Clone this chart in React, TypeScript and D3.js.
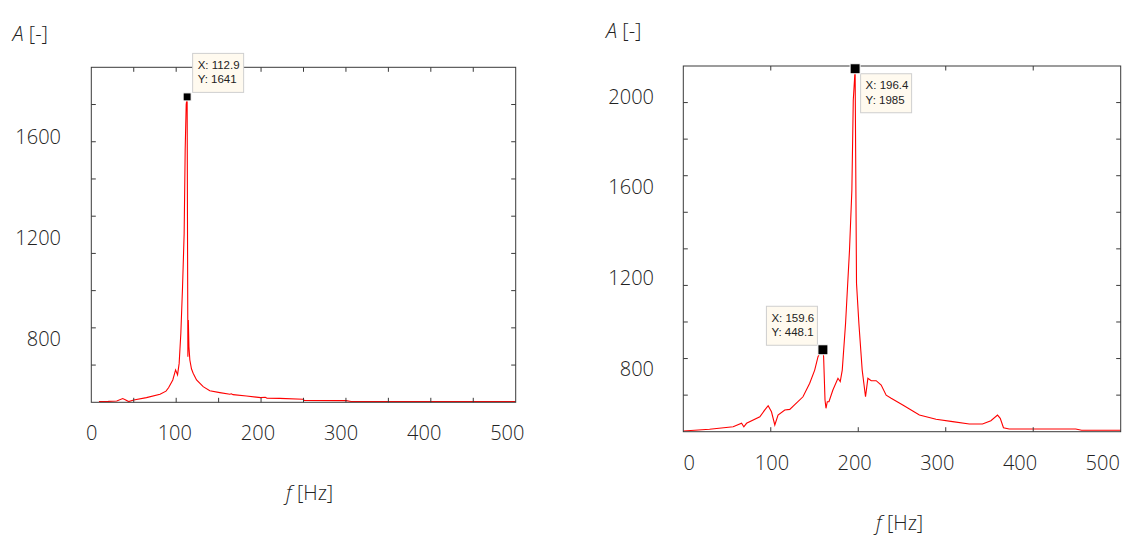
import React, { useEffect, useRef } from 'react';
import * as d3 from 'd3';

// left spectrum (f in Hz, A in -)
const leftFreq = [9, 20, 30, 37, 40, 44, 50, 65, 81, 88, 91, 96, 99.3, 101.6, 103.5, 105.5, 107.5, 109.4, 110.6, 111.8, 112.9, 113.3, 113.8, 114.3, 115, 116.1, 118, 120, 124, 131.8, 139.6, 151.4, 163.2, 165, 167, 182.8, 199.6, 205, 207, 222, 249.4, 251, 300.5, 306, 500];
const leftAmp = [4, 5, 7, 20, 14, 4, 12, 25, 43, 60, 78, 120, 174, 147, 209, 371, 621, 908, 1356, 1600, 1641, 1000, 245, 442, 300, 227, 180, 156, 120, 84, 62, 52, 43, 46, 41, 34, 25, 27, 22, 21, 16, 10, 9, 4, 4];

// right spectrum
const rightFreq = [0, 30, 57, 66.6, 69.2, 72.3, 87.5, 93.2, 97, 100.8, 104.6, 108.3, 116, 121.7, 136.8, 144.5, 150.2, 154, 157, 159.6, 160.4, 162, 163.1, 164.6, 166.5, 171, 176.8, 179.4, 181.7, 185.5, 190, 192.7, 194.3, 195.8, 196.4, 197, 198, 200.7, 204.5, 208.3, 211, 214.8, 220.5, 226.2, 231.9, 237.6, 250.9, 269.9, 288.9, 307.9, 326.9, 342, 351.6, 359.2, 362.3, 366, 372.5, 448.6, 455.3, 500];
const rightAmp = [4, 13, 27, 46, 27, 46, 82, 119, 142, 109, 37, 91, 119, 122, 191, 265, 337, 410, 440, 448.1, 410, 173, 128, 164, 164, 228, 292, 274, 337, 593, 994, 1322, 1814, 1933, 1985, 1541, 812, 593, 337, 191, 292, 279, 279, 255, 200, 183, 146, 91, 68, 55, 42, 42, 60, 91, 73, 22, 15, 15, 8, 8];

// axis ticks (inward tick marks) and the text labels set beside the plots
const leftXTicks = [50, 100, 150, 200, 250, 300, 350, 400, 450];
const leftYTicks = [200, 400, 600, 800, 1000, 1200, 1400, 1600];
const rightXTicks = [100, 200, 300, 400];
const rightYTicks = [200, 400, 600, 800, 1000, 1200, 1400, 1600, 1800];
const xLabels = [0, 100, 200, 300, 400, 500];
const leftYLabels = [800, 1200, 1600];
const rightYLabels = [800, 1200, 1600, 2000];

// data tips: [x, y, corner]
const leftTips: [number, number, string][] = [[112.9, 1641, 'bl']];
const rightTips: [number, number, string][] = [[196.4, 1985, 'tl'], [159.6, 448.1, 'br']];

const FONT = "'Open Sans', 'Noto Sans', sans-serif";

type Panel = {
  freq: number[];
  amp: number[];
  xRange: [number, number];
  yRange: [number, number];
  yMax: number;
  xTicks: number[];
  yTicks: number[];
  xLabRange: [number, number];
  xLabY: number;
  yLabels: number[];
  yLabDomain: [number, number];
  yLabRange: [number, number];
  yLabX: number;
  titleX: number;
  titleY: number;
  fX: number;
  fY: number;
  tips: [number, number, string][];
  marker: number;
};

const panels: Panel[] = [
  {
    freq: leftFreq, amp: leftAmp,
    xRange: [91.3, 515.7], yRange: [402.3, 67.3], yMax: 1800,
    xTicks: leftXTicks, yTicks: leftYTicks,
    xLabRange: [91.7, 507.3], xLabY: 440,
    yLabels: leftYLabels, yLabDomain: [800, 1600], yLabRange: [338.3, 136.7], yLabX: 61,
    titleX: 12.5, titleY: 41, fX: 286, fY: 499.5,
    tips: leftTips, marker: 8,
  },
  {
    freq: rightFreq, amp: rightAmp,
    xRange: [683.3, 1120.7], yRange: [431.7, 66], yMax: 2000,
    xTicks: rightXTicks, yTicks: rightYTicks,
    xLabRange: [689.3, 1102.7], xLabY: 470,
    yLabels: rightYLabels, yLabDomain: [800, 2000], yLabRange: [368.3, 96.3], yLabX: 654,
    titleX: 606, titleY: 38, fX: 876, fY: 530,
    tips: rightTips, marker: 10,
  },
];

const App = () => {
  const svgRef = useRef<SVGSVGElement>(null);

  useEffect(() => {
    const svg = d3.select(svgRef.current);
    svg.selectAll('*').remove();

    panels.forEach(p => {
      const g = svg.append('g');
      const x = d3.scaleLinear().domain([0, 500]).range(p.xRange);
      const y = d3.scaleLinear().domain([0, p.yMax]).range(p.yRange);
      const [x0, x1] = p.xRange;
      const [y0, y1] = p.yRange;
      const tl = 4.5;

      // curve
      const pts = p.freq.map((f, i) => [f, p.amp[i]] as [number, number]);
      g.append('path')
        .datum(pts)
        .attr('fill', 'none')
        .attr('stroke', '#ff0000')
        .attr('stroke-width', 1.1)
        .attr('d', d3.line<[number, number]>().x(d => x(d[0])).y(d => y(d[1])));

      // box
      g.append('rect')
        .attr('x', x0).attr('y', y1)
        .attr('width', x1 - x0).attr('height', y0 - y1)
        .attr('fill', 'none')
        .attr('stroke', '#3a3a3a')
        .attr('stroke-width', 1);

      // inward ticks on all four sides
      const ticks = g.append('g').attr('stroke', '#3a3a3a').attr('stroke-width', 1);
      p.xTicks.forEach(t => {
        ticks.append('line').attr('x1', x(t)).attr('x2', x(t)).attr('y1', y0).attr('y2', y0 - tl);
        ticks.append('line').attr('x1', x(t)).attr('x2', x(t)).attr('y1', y1).attr('y2', y1 + tl);
      });
      p.yTicks.forEach(t => {
        ticks.append('line').attr('y1', y(t)).attr('y2', y(t)).attr('x1', x0).attr('x2', x0 + tl);
        ticks.append('line').attr('y1', y(t)).attr('y2', y(t)).attr('x1', x1).attr('x2', x1 - tl);
      });

      // data tips
      p.tips.forEach(([tx, ty, corner]) => {
        const cx = x(tx);
        const cy = y(ty);
        const w = 51;
        const h = 39;
        const bx = corner === 'br' ? cx - 5.5 - w : cx + 5.5;
        const by = corner === 'tl' ? cy + 5 : cy - 4.5 - h;
        const tip = g.append('g');
        tip.append('rect')
          .attr('x', bx).attr('y', by).attr('width', w).attr('height', h)
          .attr('fill', '#fffaef')
          .attr('stroke', '#cfcfcf')
          .attr('stroke-width', 1);
        tip.append('text')
          .attr('x', bx + 5).attr('y', by + 15.5)
          .attr('font-family', "'Liberation Sans', Arial, sans-serif")
          .attr('font-size', 11.5)
          .attr('fill', '#222')
          .text(`X: ${tx}`);
        tip.append('text')
          .attr('x', bx + 5).attr('y', by + 30)
          .attr('font-family', "'Liberation Sans', Arial, sans-serif")
          .attr('font-size', 11.5)
          .attr('fill', '#222')
          .text(`Y: ${ty}`);
        g.append('rect')
          .attr('x', cx - p.marker / 2).attr('y', cy - p.marker / 2)
          .attr('width', p.marker).attr('height', p.marker)
          .attr('fill', '#000')
          .attr('stroke', '#fff')
          .attr('stroke-width', 1);
      });

      // labels placed beside the plot
      const xl = d3.scaleLinear().domain([0, 500]).range(p.xLabRange);
      g.selectAll('.xl')
        .data(xLabels)
        .enter().append('text')
        .attr('x', d => xl(d))
        .attr('y', p.xLabY)
        .attr('text-anchor', 'middle')
        .attr('font-family', FONT)
        .attr('font-weight', 300)
        .attr('font-size', 20)
        .attr('fill', '#222')
        .text(d => d);

      const yl = d3.scaleLinear().domain(p.yLabDomain).range(p.yLabRange);
      g.selectAll('.yl')
        .data(p.yLabels)
        .enter().append('text')
        .attr('x', p.yLabX)
        .attr('y', d => yl(d))
        .attr('dy', '0.36em')
        .attr('text-anchor', 'end')
        .attr('font-family', FONT)
        .attr('font-weight', 300)
        .attr('font-size', 20)
        .attr('fill', '#222')
        .text(d => d);

      const title = g.append('text')
        .attr('x', p.titleX).attr('y', p.titleY)
        .attr('font-family', FONT)
        .attr('font-weight', 300)
        .attr('font-size', 20)
        .attr('fill', '#222');
      title.append('tspan').attr('font-style', 'italic').text('A');
      title.append('tspan').text(' [-]');

      const fl = g.append('text')
        .attr('x', p.fX).attr('y', p.fY)
        .attr('font-family', FONT)
        .attr('font-weight', 300)
        .attr('font-size', 20)
        .attr('fill', '#222');
      fl.append('tspan').attr('font-style', 'italic').text('f');
      fl.append('tspan').text(' [Hz]');
    });
  }, []);

  return (
    <svg
      ref={svgRef}
      width={1127}
      height={540}
      style={{ position: 'absolute', left: 0, top: 0, background: '#fff' }}
    ></svg>
  );
};

export default App;
